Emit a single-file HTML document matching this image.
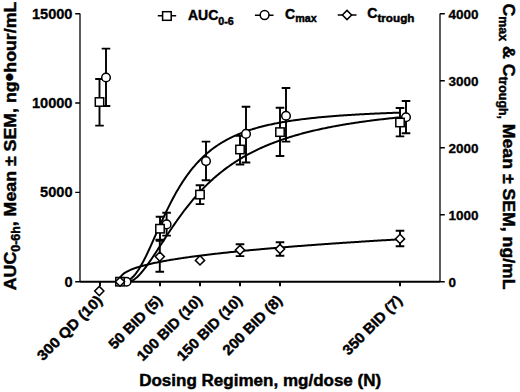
<!DOCTYPE html>
<html><head><meta charset="utf-8"><style>
html,body{margin:0;padding:0;background:#fff;width:520px;height:392px;overflow:hidden}
svg{display:block}
text{font-family:"Liberation Sans",sans-serif;font-weight:bold;fill:#000;stroke:#000;stroke-width:0.45px}
text.tk{stroke-width:0.3px}
</style></head><body>
<svg width="520" height="392" viewBox="0 0 520 392">
<g fill="none" stroke="#000" stroke-width="1.6">
<path d="M80,13.6V281.7" stroke="#333"/>
<path d="M440,13.6V281.7" stroke="#333"/>
<path d="M75.2,281.70H80M75.2,192.37H80M75.2,103.03H80M75.2,13.70H80M440,281.70H444.8M440,214.70H444.8M440,147.70H444.8M440,80.70H444.8M440,13.70H444.8" stroke-width="1.4"/>
<path d="M80,281.7H440M100,281.7V286.3M160,281.7V286.3M200,281.7V286.3M240,281.7V286.3M280,281.7V286.3M400,281.7V286.3" stroke-width="1.9"/>
</g>
<g fill="none" stroke="#000" stroke-width="2">
<path d="M120.0,281.70 L121.0,281.70 L122.0,281.70 L123.0,281.70 L124.0,281.66 L125.0,281.53 L126.0,281.31 L127.0,280.99 L128.0,280.57 L129.0,280.03 L130.0,279.39 L131.0,278.65 L132.0,277.79 L133.0,276.83 L134.0,275.76 L135.0,274.59 L136.0,273.32 L137.0,271.96 L138.0,270.50 L139.0,268.96 L140.0,267.33 L141.0,265.62 L142.0,263.84 L143.0,261.99 L144.0,260.08 L145.0,258.11 L146.0,256.09 L147.0,254.02 L148.0,251.91 L149.0,249.77 L150.0,247.59 L151.0,245.39 L152.0,243.17 L153.0,240.93 L154.0,238.69 L155.0,236.43 L156.0,234.18 L157.0,231.92 L158.0,229.67 L159.0,227.43 L160.0,225.20 L161.0,222.98 L162.0,220.79 L163.0,218.61 L164.0,216.45 L165.0,214.32 L166.0,212.21 L167.0,210.14 L168.0,208.09 L169.0,206.07 L170.0,204.08 L171.0,202.12 L172.0,200.20 L173.0,198.31 L174.0,196.46 L175.0,194.64 L176.0,192.85 L177.0,191.10 L178.0,189.39 L179.0,187.71 L180.0,186.06 L181.0,184.45 L182.0,182.88 L183.0,181.33 L184.0,179.83 L185.0,178.35 L186.0,176.91 L187.0,175.50 L188.0,174.13 L189.0,172.78 L190.0,171.47 L191.0,170.19 L192.0,168.94 L193.0,167.71 L194.0,166.52 L195.0,165.35 L196.0,164.21 L197.0,163.10 L198.0,162.02 L199.0,160.96 L200.0,159.93 L201.0,158.92 L202.0,157.94 L203.0,156.98 L204.0,156.04 L205.0,155.12 L206.0,154.23 L207.0,153.36 L208.0,152.51 L209.0,151.68 L210.0,150.87 L211.0,150.08 L212.0,149.30 L213.0,148.55 L214.0,147.81 L215.0,147.10 L216.0,146.39 L217.0,145.71 L218.0,145.04 L219.0,144.38 L220.0,143.75 L221.0,143.12 L222.0,142.51 L223.0,141.92 L224.0,141.33 L225.0,140.77 L226.0,140.21 L227.0,139.67 L228.0,139.14 L229.0,138.62 L230.0,138.11 L231.0,137.61 L232.0,137.13 L233.0,136.65 L234.0,136.19 L235.0,135.74 L236.0,135.29 L237.0,134.86 L238.0,134.43 L239.0,134.02 L240.0,133.61 L241.0,133.21 L242.0,132.83 L243.0,132.44 L244.0,132.07 L245.0,131.71 L246.0,131.35 L247.0,131.00 L248.0,130.65 L249.0,130.32 L250.0,129.99 L251.0,129.67 L252.0,129.35 L253.0,129.04 L254.0,128.74 L255.0,128.44 L256.0,128.15 L257.0,127.86 L258.0,127.58 L259.0,127.31 L260.0,127.04 L261.0,126.78 L262.0,126.52 L263.0,126.27 L264.0,126.02 L265.0,125.77 L266.0,125.53 L267.0,125.30 L268.0,125.07 L269.0,124.84 L270.0,124.62 L271.0,124.40 L272.0,124.19 L273.0,123.98 L274.0,123.77 L275.0,123.57 L276.0,123.37 L277.0,123.17 L278.0,122.98 L279.0,122.80 L280.0,122.61 L281.0,122.43 L282.0,122.25 L283.0,122.08 L284.0,121.90 L285.0,121.73 L286.0,121.57 L287.0,121.40 L288.0,121.24 L289.0,121.09 L290.0,120.93 L291.0,120.78 L292.0,120.63 L293.0,120.48 L294.0,120.33 L295.0,120.19 L296.0,120.05 L297.0,119.91 L298.0,119.78 L299.0,119.64 L300.0,119.51 L301.0,119.38 L302.0,119.26 L303.0,119.13 L304.0,119.01 L305.0,118.89 L306.0,118.77 L307.0,118.65 L308.0,118.53 L309.0,118.42 L310.0,118.31 L311.0,118.20 L312.0,118.09 L313.0,117.98 L314.0,117.88 L315.0,117.77 L316.0,117.67 L317.0,117.57 L318.0,117.47 L319.0,117.37 L320.0,117.28 L321.0,117.18 L322.0,117.09 L323.0,117.00 L324.0,116.91 L325.0,116.82 L326.0,116.73 L327.0,116.64 L328.0,116.56 L329.0,116.47 L330.0,116.39 L331.0,116.31 L332.0,116.23 L333.0,116.15 L334.0,116.07 L335.0,115.99 L336.0,115.92 L337.0,115.84 L338.0,115.77 L339.0,115.69 L340.0,115.62 L341.0,115.55 L342.0,115.48 L343.0,115.41 L344.0,115.34 L345.0,115.27 L346.0,115.21 L347.0,115.14 L348.0,115.08 L349.0,115.01 L350.0,114.95 L351.0,114.89 L352.0,114.83 L353.0,114.76 L354.0,114.70 L355.0,114.65 L356.0,114.59 L357.0,114.53 L358.0,114.47 L359.0,114.42 L360.0,114.36 L361.0,114.31 L362.0,114.25 L363.0,114.20 L364.0,114.15 L365.0,114.09 L366.0,114.04 L367.0,113.99 L368.0,113.94 L369.0,113.89 L370.0,113.84 L371.0,113.79 L372.0,113.75 L373.0,113.70 L374.0,113.65 L375.0,113.61 L376.0,113.56 L377.0,113.52 L378.0,113.47 L379.0,113.43 L380.0,113.38 L381.0,113.34 L382.0,113.30 L383.0,113.26 L384.0,113.22 L385.0,113.18 L386.0,113.13 L387.0,113.09 L388.0,113.06 L389.0,113.02 L390.0,112.98 L391.0,112.94 L392.0,112.90 L393.0,112.86 L394.0,112.83 L395.0,112.79 L396.0,112.75 L397.0,112.72 L398.0,112.68 L399.0,112.65 L400.0,112.61"/>
<path d="M120.0,281.70 L121.0,281.70 L122.0,281.70 L123.0,281.70 L124.0,281.70 L125.0,281.70 L126.0,281.70 L127.0,281.70 L128.0,281.70 L129.0,281.69 L130.0,281.52 L131.0,281.19 L132.0,280.75 L133.0,280.20 L134.0,279.56 L135.0,278.83 L136.0,278.03 L137.0,277.15 L138.0,276.20 L139.0,275.20 L140.0,274.13 L141.0,273.02 L142.0,271.85 L143.0,270.64 L144.0,269.39 L145.0,268.10 L146.0,266.78 L147.0,265.42 L148.0,264.03 L149.0,262.62 L150.0,261.19 L151.0,259.73 L152.0,258.26 L153.0,256.77 L154.0,255.27 L155.0,253.75 L156.0,252.23 L157.0,250.70 L158.0,249.16 L159.0,247.62 L160.0,246.07 L161.0,244.53 L162.0,242.98 L163.0,241.43 L164.0,239.89 L165.0,238.36 L166.0,236.82 L167.0,235.30 L168.0,233.78 L169.0,232.26 L170.0,230.76 L171.0,229.27 L172.0,227.78 L173.0,226.31 L174.0,224.85 L175.0,223.40 L176.0,221.96 L177.0,220.54 L178.0,219.12 L179.0,217.73 L180.0,216.34 L181.0,214.97 L182.0,213.62 L183.0,212.27 L184.0,210.95 L185.0,209.64 L186.0,208.34 L187.0,207.06 L188.0,205.79 L189.0,204.54 L190.0,203.31 L191.0,202.09 L192.0,200.88 L193.0,199.69 L194.0,198.52 L195.0,197.36 L196.0,196.22 L197.0,195.09 L198.0,193.97 L199.0,192.88 L200.0,191.79 L201.0,190.72 L202.0,189.67 L203.0,188.63 L204.0,187.61 L205.0,186.60 L206.0,185.60 L207.0,184.62 L208.0,183.65 L209.0,182.69 L210.0,181.75 L211.0,180.82 L212.0,179.91 L213.0,179.01 L214.0,178.12 L215.0,177.24 L216.0,176.38 L217.0,175.53 L218.0,174.69 L219.0,173.86 L220.0,173.05 L221.0,172.24 L222.0,171.45 L223.0,170.67 L224.0,169.90 L225.0,169.15 L226.0,168.40 L227.0,167.66 L228.0,166.94 L229.0,166.22 L230.0,165.52 L231.0,164.82 L232.0,164.14 L233.0,163.46 L234.0,162.80 L235.0,162.14 L236.0,161.50 L237.0,160.86 L238.0,160.23 L239.0,159.61 L240.0,159.00 L241.0,158.40 L242.0,157.81 L243.0,157.22 L244.0,156.65 L245.0,156.08 L246.0,155.52 L247.0,154.96 L248.0,154.42 L249.0,153.88 L250.0,153.35 L251.0,152.83 L252.0,152.31 L253.0,151.80 L254.0,151.30 L255.0,150.81 L256.0,150.32 L257.0,149.84 L258.0,149.37 L259.0,148.90 L260.0,148.43 L261.0,147.98 L262.0,147.53 L263.0,147.09 L264.0,146.65 L265.0,146.22 L266.0,145.79 L267.0,145.37 L268.0,144.96 L269.0,144.55 L270.0,144.14 L271.0,143.74 L272.0,143.35 L273.0,142.96 L274.0,142.58 L275.0,142.20 L276.0,141.83 L277.0,141.46 L278.0,141.09 L279.0,140.73 L280.0,140.38 L281.0,140.03 L282.0,139.68 L283.0,139.34 L284.0,139.00 L285.0,138.67 L286.0,138.34 L287.0,138.02 L288.0,137.70 L289.0,137.38 L290.0,137.07 L291.0,136.76 L292.0,136.45 L293.0,136.15 L294.0,135.85 L295.0,135.56 L296.0,135.27 L297.0,134.98 L298.0,134.70 L299.0,134.42 L300.0,134.14 L301.0,133.86 L302.0,133.59 L303.0,133.33 L304.0,133.06 L305.0,132.80 L306.0,132.54 L307.0,132.29 L308.0,132.04 L309.0,131.79 L310.0,131.54 L311.0,131.30 L312.0,131.06 L313.0,130.82 L314.0,130.58 L315.0,130.35 L316.0,130.12 L317.0,129.89 L318.0,129.67 L319.0,129.44 L320.0,129.22 L321.0,129.01 L322.0,128.79 L323.0,128.58 L324.0,128.37 L325.0,128.16 L326.0,127.96 L327.0,127.75 L328.0,127.55 L329.0,127.35 L330.0,127.15 L331.0,126.96 L332.0,126.77 L333.0,126.58 L334.0,126.39 L335.0,126.20 L336.0,126.02 L337.0,125.83 L338.0,125.65 L339.0,125.47 L340.0,125.30 L341.0,125.12 L342.0,124.95 L343.0,124.78 L344.0,124.61 L345.0,124.44 L346.0,124.27 L347.0,124.11 L348.0,123.94 L349.0,123.78 L350.0,123.62 L351.0,123.46 L352.0,123.31 L353.0,123.15 L354.0,123.00 L355.0,122.85 L356.0,122.70 L357.0,122.55 L358.0,122.40 L359.0,122.25 L360.0,122.11 L361.0,121.97 L362.0,121.82 L363.0,121.68 L364.0,121.54 L365.0,121.41 L366.0,121.27 L367.0,121.13 L368.0,121.00 L369.0,120.87 L370.0,120.74 L371.0,120.61 L372.0,120.48 L373.0,120.35 L374.0,120.22 L375.0,120.10 L376.0,119.97 L377.0,119.85 L378.0,119.73 L379.0,119.61 L380.0,119.49 L381.0,119.37 L382.0,119.25 L383.0,119.14 L384.0,119.02 L385.0,118.91 L386.0,118.79 L387.0,118.68 L388.0,118.57 L389.0,118.46 L390.0,118.35 L391.0,118.24 L392.0,118.14 L393.0,118.03 L394.0,117.92 L395.0,117.82 L396.0,117.72 L397.0,117.61 L398.0,117.51 L399.0,117.41 L400.0,117.31"/>
<path d="M120.0,278.18 L121.0,276.33 L122.0,275.14 L123.0,274.20 L124.0,273.42 L125.0,272.73 L126.0,272.11 L127.0,271.55 L128.0,271.03 L129.0,270.54 L130.0,270.09 L131.0,269.66 L132.0,269.26 L133.0,268.87 L134.0,268.50 L135.0,268.14 L136.0,267.80 L137.0,267.47 L138.0,267.15 L139.0,266.85 L140.0,266.55 L141.0,266.26 L142.0,265.98 L143.0,265.70 L144.0,265.43 L145.0,265.17 L146.0,264.92 L147.0,264.67 L148.0,264.43 L149.0,264.19 L150.0,263.96 L151.0,263.73 L152.0,263.50 L153.0,263.28 L154.0,263.07 L155.0,262.85 L156.0,262.65 L157.0,262.44 L158.0,262.24 L159.0,262.04 L160.0,261.84 L161.0,261.65 L162.0,261.46 L163.0,261.27 L164.0,261.09 L165.0,260.91 L166.0,260.73 L167.0,260.55 L168.0,260.38 L169.0,260.20 L170.0,260.03 L171.0,259.86 L172.0,259.70 L173.0,259.53 L174.0,259.37 L175.0,259.21 L176.0,259.05 L177.0,258.89 L178.0,258.74 L179.0,258.58 L180.0,258.43 L181.0,258.28 L182.0,258.13 L183.0,257.98 L184.0,257.83 L185.0,257.69 L186.0,257.54 L187.0,257.40 L188.0,257.26 L189.0,257.12 L190.0,256.98 L191.0,256.84 L192.0,256.71 L193.0,256.57 L194.0,256.44 L195.0,256.30 L196.0,256.17 L197.0,256.04 L198.0,255.91 L199.0,255.78 L200.0,255.65 L201.0,255.53 L202.0,255.40 L203.0,255.28 L204.0,255.15 L205.0,255.03 L206.0,254.91 L207.0,254.79 L208.0,254.67 L209.0,254.55 L210.0,254.43 L211.0,254.31 L212.0,254.19 L213.0,254.07 L214.0,253.96 L215.0,253.84 L216.0,253.73 L217.0,253.62 L218.0,253.50 L219.0,253.39 L220.0,253.28 L221.0,253.17 L222.0,253.06 L223.0,252.95 L224.0,252.84 L225.0,252.73 L226.0,252.63 L227.0,252.52 L228.0,252.41 L229.0,252.31 L230.0,252.20 L231.0,252.10 L232.0,251.99 L233.0,251.89 L234.0,251.79 L235.0,251.69 L236.0,251.58 L237.0,251.48 L238.0,251.38 L239.0,251.28 L240.0,251.18 L241.0,251.08 L242.0,250.99 L243.0,250.89 L244.0,250.79 L245.0,250.69 L246.0,250.60 L247.0,250.50 L248.0,250.41 L249.0,250.31 L250.0,250.22 L251.0,250.12 L252.0,250.03 L253.0,249.93 L254.0,249.84 L255.0,249.75 L256.0,249.66 L257.0,249.57 L258.0,249.47 L259.0,249.38 L260.0,249.29 L261.0,249.20 L262.0,249.11 L263.0,249.02 L264.0,248.94 L265.0,248.85 L266.0,248.76 L267.0,248.67 L268.0,248.58 L269.0,248.50 L270.0,248.41 L271.0,248.32 L272.0,248.24 L273.0,248.15 L274.0,248.07 L275.0,247.98 L276.0,247.90 L277.0,247.81 L278.0,247.73 L279.0,247.65 L280.0,247.56 L281.0,247.48 L282.0,247.40 L283.0,247.32 L284.0,247.23 L285.0,247.15 L286.0,247.07 L287.0,246.99 L288.0,246.91 L289.0,246.83 L290.0,246.75 L291.0,246.67 L292.0,246.59 L293.0,246.51 L294.0,246.43 L295.0,246.35 L296.0,246.28 L297.0,246.20 L298.0,246.12 L299.0,246.04 L300.0,245.96 L301.0,245.89 L302.0,245.81 L303.0,245.73 L304.0,245.66 L305.0,245.58 L306.0,245.51 L307.0,245.43 L308.0,245.36 L309.0,245.28 L310.0,245.21 L311.0,245.13 L312.0,245.06 L313.0,244.98 L314.0,244.91 L315.0,244.84 L316.0,244.76 L317.0,244.69 L318.0,244.62 L319.0,244.54 L320.0,244.47 L321.0,244.40 L322.0,244.33 L323.0,244.26 L324.0,244.19 L325.0,244.11 L326.0,244.04 L327.0,243.97 L328.0,243.90 L329.0,243.83 L330.0,243.76 L331.0,243.69 L332.0,243.62 L333.0,243.55 L334.0,243.48 L335.0,243.41 L336.0,243.34 L337.0,243.28 L338.0,243.21 L339.0,243.14 L340.0,243.07 L341.0,243.00 L342.0,242.94 L343.0,242.87 L344.0,242.80 L345.0,242.73 L346.0,242.67 L347.0,242.60 L348.0,242.53 L349.0,242.47 L350.0,242.40 L351.0,242.33 L352.0,242.27 L353.0,242.20 L354.0,242.14 L355.0,242.07 L356.0,242.01 L357.0,241.94 L358.0,241.88 L359.0,241.81 L360.0,241.75 L361.0,241.68 L362.0,241.62 L363.0,241.56 L364.0,241.49 L365.0,241.43 L366.0,241.36 L367.0,241.30 L368.0,241.24 L369.0,241.17 L370.0,241.11 L371.0,241.05 L372.0,240.99 L373.0,240.92 L374.0,240.86 L375.0,240.80 L376.0,240.74 L377.0,240.68 L378.0,240.61 L379.0,240.55 L380.0,240.49 L381.0,240.43 L382.0,240.37 L383.0,240.31 L384.0,240.25 L385.0,240.19 L386.0,240.13 L387.0,240.07 L388.0,240.01 L389.0,239.95 L390.0,239.89 L391.0,239.83 L392.0,239.77 L393.0,239.71 L394.0,239.65 L395.0,239.59 L396.0,239.53 L397.0,239.47 L398.0,239.41 L399.0,239.35 L400.0,239.30"/>
</g>
<g fill="none" stroke="#000" stroke-width="1.9"><path d="M106,48.6V106M101.7,48.6H110.3M101.7,106H110.3"/><path d="M166.6,212.7V235.6M162.29999999999998,212.7H170.9M162.29999999999998,235.6H170.9"/><path d="M206,141.6V180.3M201.7,141.6H210.3M201.7,180.3H210.3"/><path d="M246,106.8V162.5M241.7,106.8H250.3M241.7,162.5H250.3"/><path d="M286,88V141.6M281.7,88H290.3M281.7,141.6H290.3"/><path d="M406,101V133.2M401.7,101H410.3M401.7,133.2H410.3"/><path d="M99.5,79V125.6M95.2,79H103.8M95.2,125.6H103.8"/><path d="M160,216.7V240.7M155.7,216.7H164.3M155.7,240.7H164.3"/><path d="M200,185.2V204.1M195.7,185.2H204.3M195.7,204.1H204.3"/><path d="M240,135.7V164.5M235.7,135.7H244.3M235.7,164.5H244.3"/><path d="M280,107.8V156M275.7,107.8H284.3M275.7,156H284.3"/><path d="M400,108V136.4M395.7,108H404.3M395.7,136.4H404.3"/><path d="M159.8,239.6V271.8M155.5,239.6H164.10000000000002M155.5,271.8H164.10000000000002"/><path d="M240,244.2V256.1M235.7,244.2H244.3M235.7,256.1H244.3"/><path d="M280,242.2V255.8M275.7,242.2H284.3M275.7,255.8H284.3"/><path d="M400,230.7V246.3M395.7,230.7H404.3M395.7,246.3H404.3"/></g>
<g fill="#fff" stroke="#000" stroke-width="1.5"><circle cx="106" cy="77.5" r="4.3"/><circle cx="126.5" cy="281.7" r="4.3"/><circle cx="166.6" cy="224.4" r="4.3"/><circle cx="206" cy="161.1" r="4.3"/><circle cx="246" cy="133.9" r="4.3"/><circle cx="286" cy="115.8" r="4.3"/><circle cx="406" cy="117.3" r="4.3"/><rect x="95.3" y="97.8" width="8.4" height="8.4"/><rect x="115.8" y="277.5" width="8.4" height="8.4"/><rect x="155.8" y="224.5" width="8.4" height="8.4"/><rect x="195.8" y="190.4" width="8.4" height="8.4"/><rect x="235.8" y="145.3" width="8.4" height="8.4"/><rect x="275.8" y="127.89999999999999" width="8.4" height="8.4"/><rect x="395.8" y="118.3" width="8.4" height="8.4"/><path d="M99.3,286.4L103.89999999999999,291L99.3,295.6L94.7,291Z"/><path d="M120,277.09999999999997L124.6,281.7L120,286.3L115.4,281.7Z"/><path d="M159.8,252.00000000000003L164.4,256.6L159.8,261.20000000000005L155.20000000000002,256.6Z"/><path d="M200,255.79999999999998L204.6,260.4L200,265.0L195.4,260.4Z"/><path d="M240,245.4L244.6,250L240,254.6L235.4,250Z"/><path d="M280,244.4L284.6,249L280,253.6L275.4,249Z"/><path d="M400,234.3L404.6,238.9L400,243.5L395.4,238.9Z"/></g>
<g font-size="14.6"><text class="tk" x="72.5" y="286.60" text-anchor="end">0</text><text class="tk" x="72.5" y="197.27" text-anchor="end">5000</text><text class="tk" x="72.5" y="107.93" text-anchor="end">10000</text><text class="tk" x="72.5" y="18.60" text-anchor="end">15000</text></g>
<g font-size="13.5"><text class="tk" x="448.5" y="286.50">0</text><text class="tk" x="448.5" y="219.50">1000</text><text class="tk" x="448.5" y="152.50">2000</text><text class="tk" x="448.5" y="85.50">3000</text><text class="tk" x="448.5" y="18.50">4000</text></g>
<g font-size="14.5"><text transform="translate(103.1,301.35) rotate(-45) scale(1.065,1)" text-anchor="end">300 QD (10)</text><text transform="translate(163.1,301.35) rotate(-45) scale(1.03,1)" text-anchor="end">50 BID (5)</text><text transform="translate(203.1,301.35) rotate(-45) scale(1.03,1)" text-anchor="end">100 BID (10)</text><text transform="translate(243.1,301.35) rotate(-45) scale(1.03,1)" text-anchor="end">150 BID (10)</text><text transform="translate(283.1,301.35) rotate(-45) scale(1.03,1)" text-anchor="end">200 BID (8)</text><text transform="translate(403.1,301.35) rotate(-45) scale(1.03,1)" text-anchor="end">350 BID (7)</text></g>
<text x="139.2" y="386.3" font-size="16.8" textLength="242" lengthAdjust="spacingAndGlyphs">Dosing Regimen, mg/dose (N)</text>
<text transform="translate(16.2,290.2) rotate(-90)" font-size="17.2" textLength="288.5" lengthAdjust="spacingAndGlyphs">AUC<tspan font-size="12" dy="4">0-6h</tspan><tspan dy="-4">, Mean ± SEM, ng</tspan><tspan font-size="24" dy="1.2">•</tspan><tspan dy="-1.2">hour/mL</tspan></text>
<text transform="translate(503.2,3.6) rotate(90)" font-size="17.2" textLength="286" lengthAdjust="spacingAndGlyphs">C<tspan font-size="12" dy="4">max</tspan><tspan dy="-4"> &amp; C</tspan><tspan font-size="12" dy="4">trough,</tspan><tspan dy="-4"> Mean ± SEM, ng/mL</tspan></text>
<g fill="none" stroke="#000" stroke-width="1.6">
<path d="M157.8,15.8H176.2M254.9,15.2H273.5M337.7,15H356.5"/>
</g>
<g fill="#fff" stroke="#000" stroke-width="1.5"><rect x="162.6" y="11.7" width="8.6" height="8.6"/><circle cx="264.6" cy="15" r="4.4"/><path d="M347,10.4L351.6,15L347,19.6L342.4,15Z"/></g>
<g font-size="14">
<text x="188" y="19.6">AUC<tspan font-size="10.5" dy="5.0" textLength="15.5" lengthAdjust="spacingAndGlyphs">0-6</tspan></text>
<text x="285" y="18.7">C<tspan font-size="10.5" dy="3.5" textLength="21.5" lengthAdjust="spacingAndGlyphs">max</tspan></text>
<text x="367.3" y="18.0">C<tspan font-size="10.5" dy="3.9" textLength="37" lengthAdjust="spacingAndGlyphs">trough</tspan></text>
</g>
</svg>
</body></html>
